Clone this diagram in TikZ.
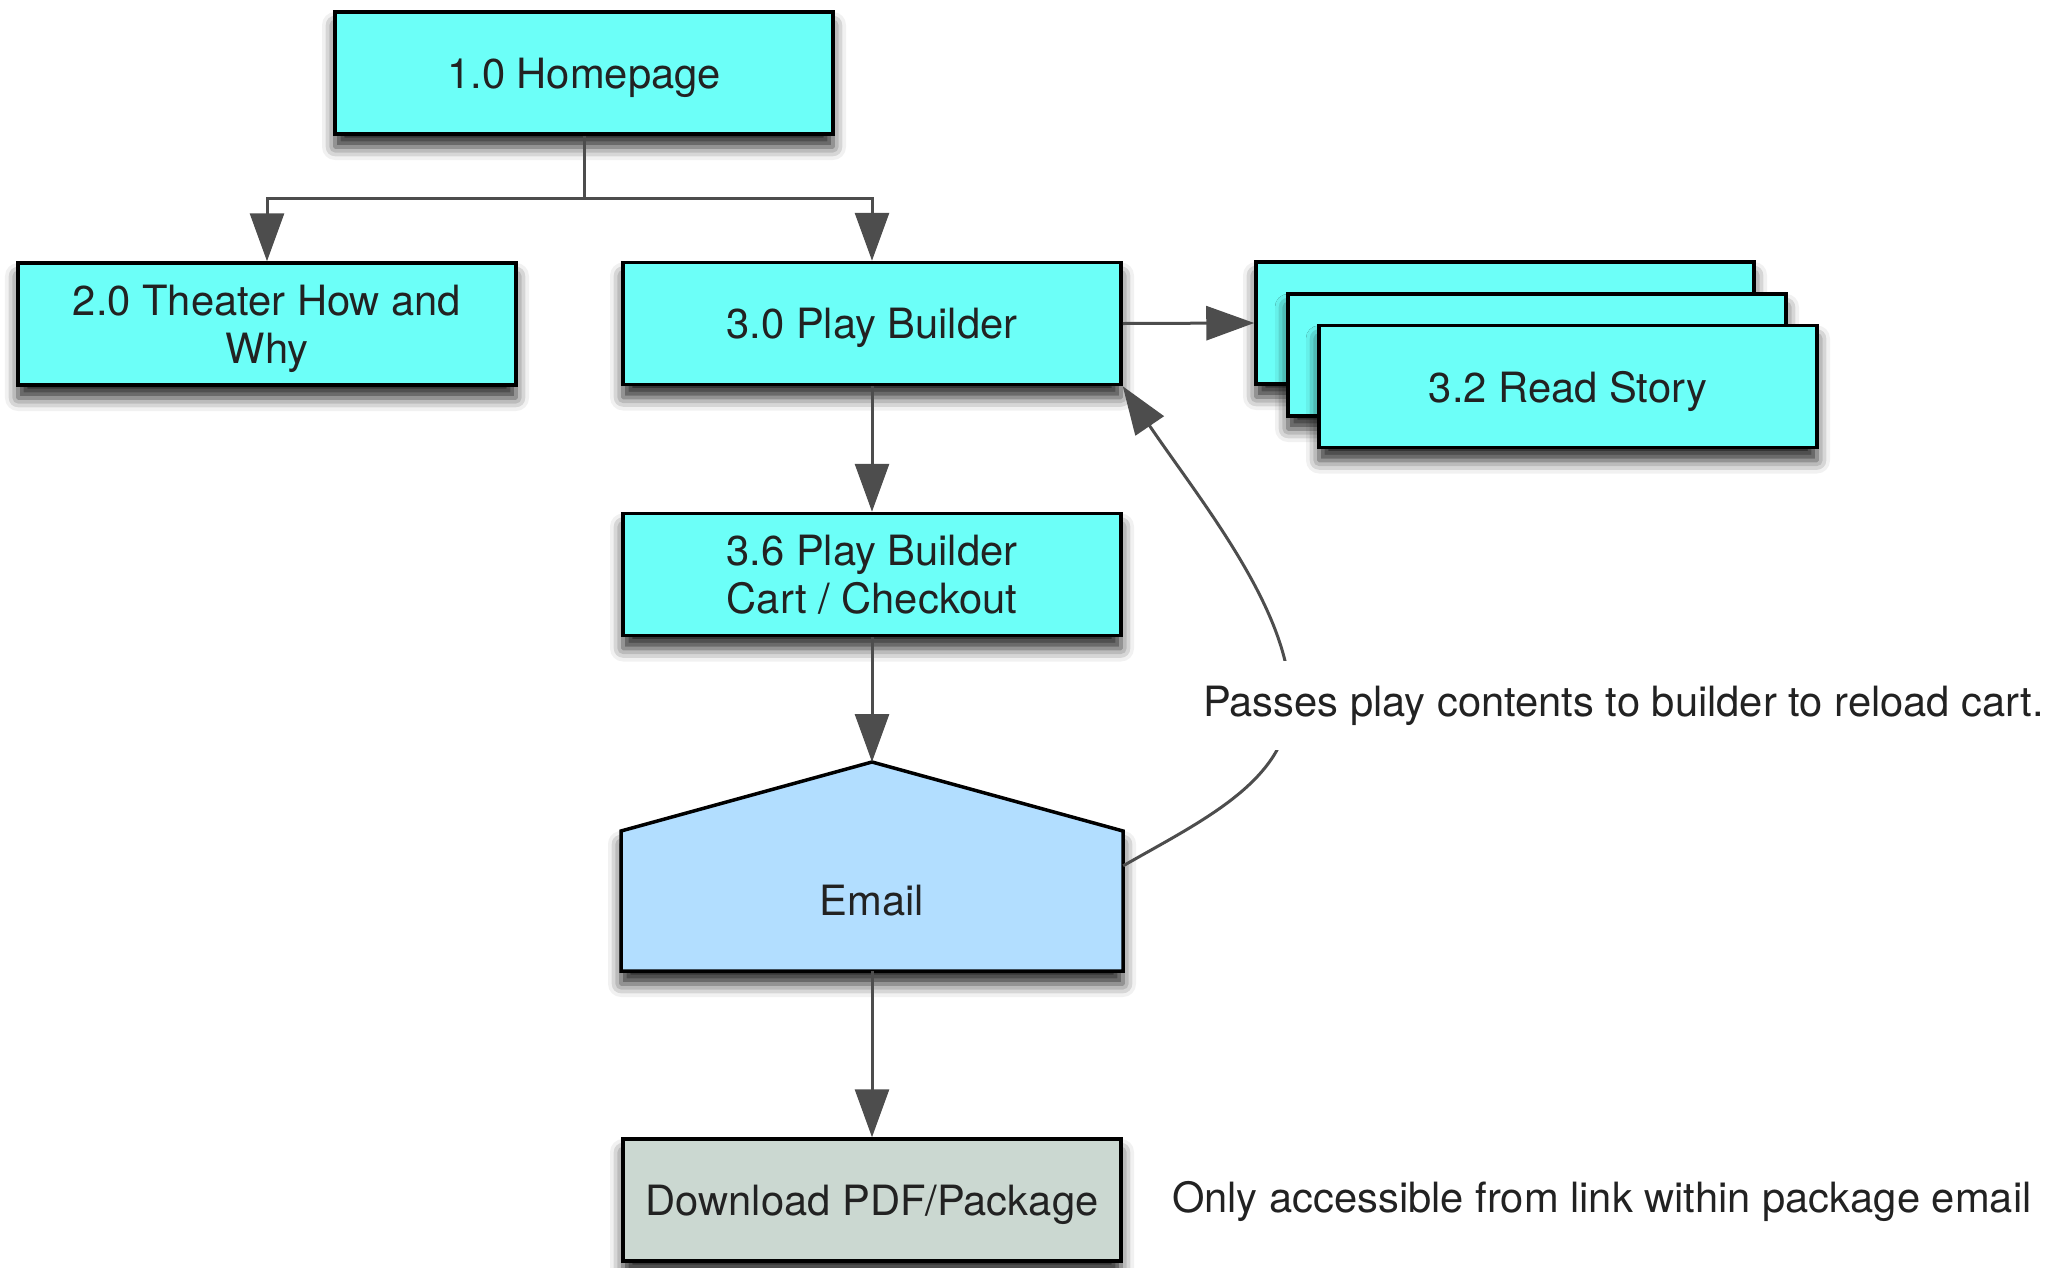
\documentclass[tikz,border=0pt]{standalone}
\usepackage{fontspec}
\setmainfont{TeX Gyre Heros}
\usetikzlibrary{arrows.meta,shadows.blur,calc}
\definecolor{boxcyan}{RGB}{108,255,248}
\definecolor{emailblue}{RGB}{178,222,255}
\definecolor{dlgrey}{RGB}{203,216,209}
\definecolor{conncol}{RGB}{77,77,77}
\definecolor{txt}{RGB}{34,34,34}
\begin{document}
\begin{tikzpicture}[x=1pt,y=-1pt,
  shad/.style={blur shadow={shadow xshift=0pt,shadow yshift=-13pt,shadow blur radius=13pt,shadow opacity=85}},
  box/.style={draw=black,line width=3.5pt,fill=boxcyan,minimum width=498pt,minimum height=122pt,inner sep=0pt,align=center,text=txt,font=\fontsize{41.7}{48}\selectfont,text depth=0pt,shad},
  link/.style={draw=conncol,line width=3pt,-{Triangle[length=48pt,width=34pt,fill=conncol]}},
  note/.style={text=txt,font=\fontsize{41.7}{48}\selectfont,inner xsep=0pt}
]
\useasboundingbox (0,0) rectangle (2051,1267);

% boxes
\node[box] (home) at (584,73) {1.0 Homepage};
\node[box] (b20) at (267,324) {2.0 Theater How and\\Why};
\node[box] (b30) at (872,323.5) {3.0 Play Builder};
\node[box,text depth=] (b36) at (872,574.5) {3.6 Play Builder\\Cart / Checkout};

% stacked read story
\node[box] (rsback) at (1505,323) {};
\node[box] (rsmid) at (1537,355) {};
\node[box] (rsfront) at (1568,386.5) {3.2 Read Story};

% email (house shape)
\draw[line width=3.5pt,fill=emailblue,shad,line join=miter]
  (621,831) -- (872,762) -- (1123,831) -- (1123,971) -- (621,971) -- cycle;
\node[text=txt,font=\fontsize{41.7}{48}\selectfont,minimum width=502pt,minimum height=140pt,inner sep=0pt] (email) at (872,901) {Email};
\coordinate (emailtop) at (872,762);

% download
\node[box,fill=dlgrey] (dl) at (872,1200) {Download PDF/Package};

% connectors
\coordinate (split) at (584,198);
\draw[draw=conncol,line width=3pt] (home.south) -- (split);
\draw[link] (split) -| (b20.north);
\draw[link] (split) -| (b30.north);
\draw[link] (b30.east) -- (rsback.west);
\draw[link] (b30.south) -- (b36.north);
\draw[link] (b36.south) -- (emailtop);
\draw[link] (email.south) -- (dl.north);
\draw[link] ([yshift=-35pt]email.north east) .. controls (1203,820) and (1290,780) .. (1290,700)
   .. controls (1290,610) and (1200,500) .. (b30.south east);

% notes
\node[note,fill=white,inner ysep=25pt,anchor=base west] (passes) at (1203,716) {Passes play contents to builder to reload cart.};
\node[note,anchor=base west] (only) at (1172,1212) {Only accessible from link within package email};
\end{tikzpicture}
\end{document}
